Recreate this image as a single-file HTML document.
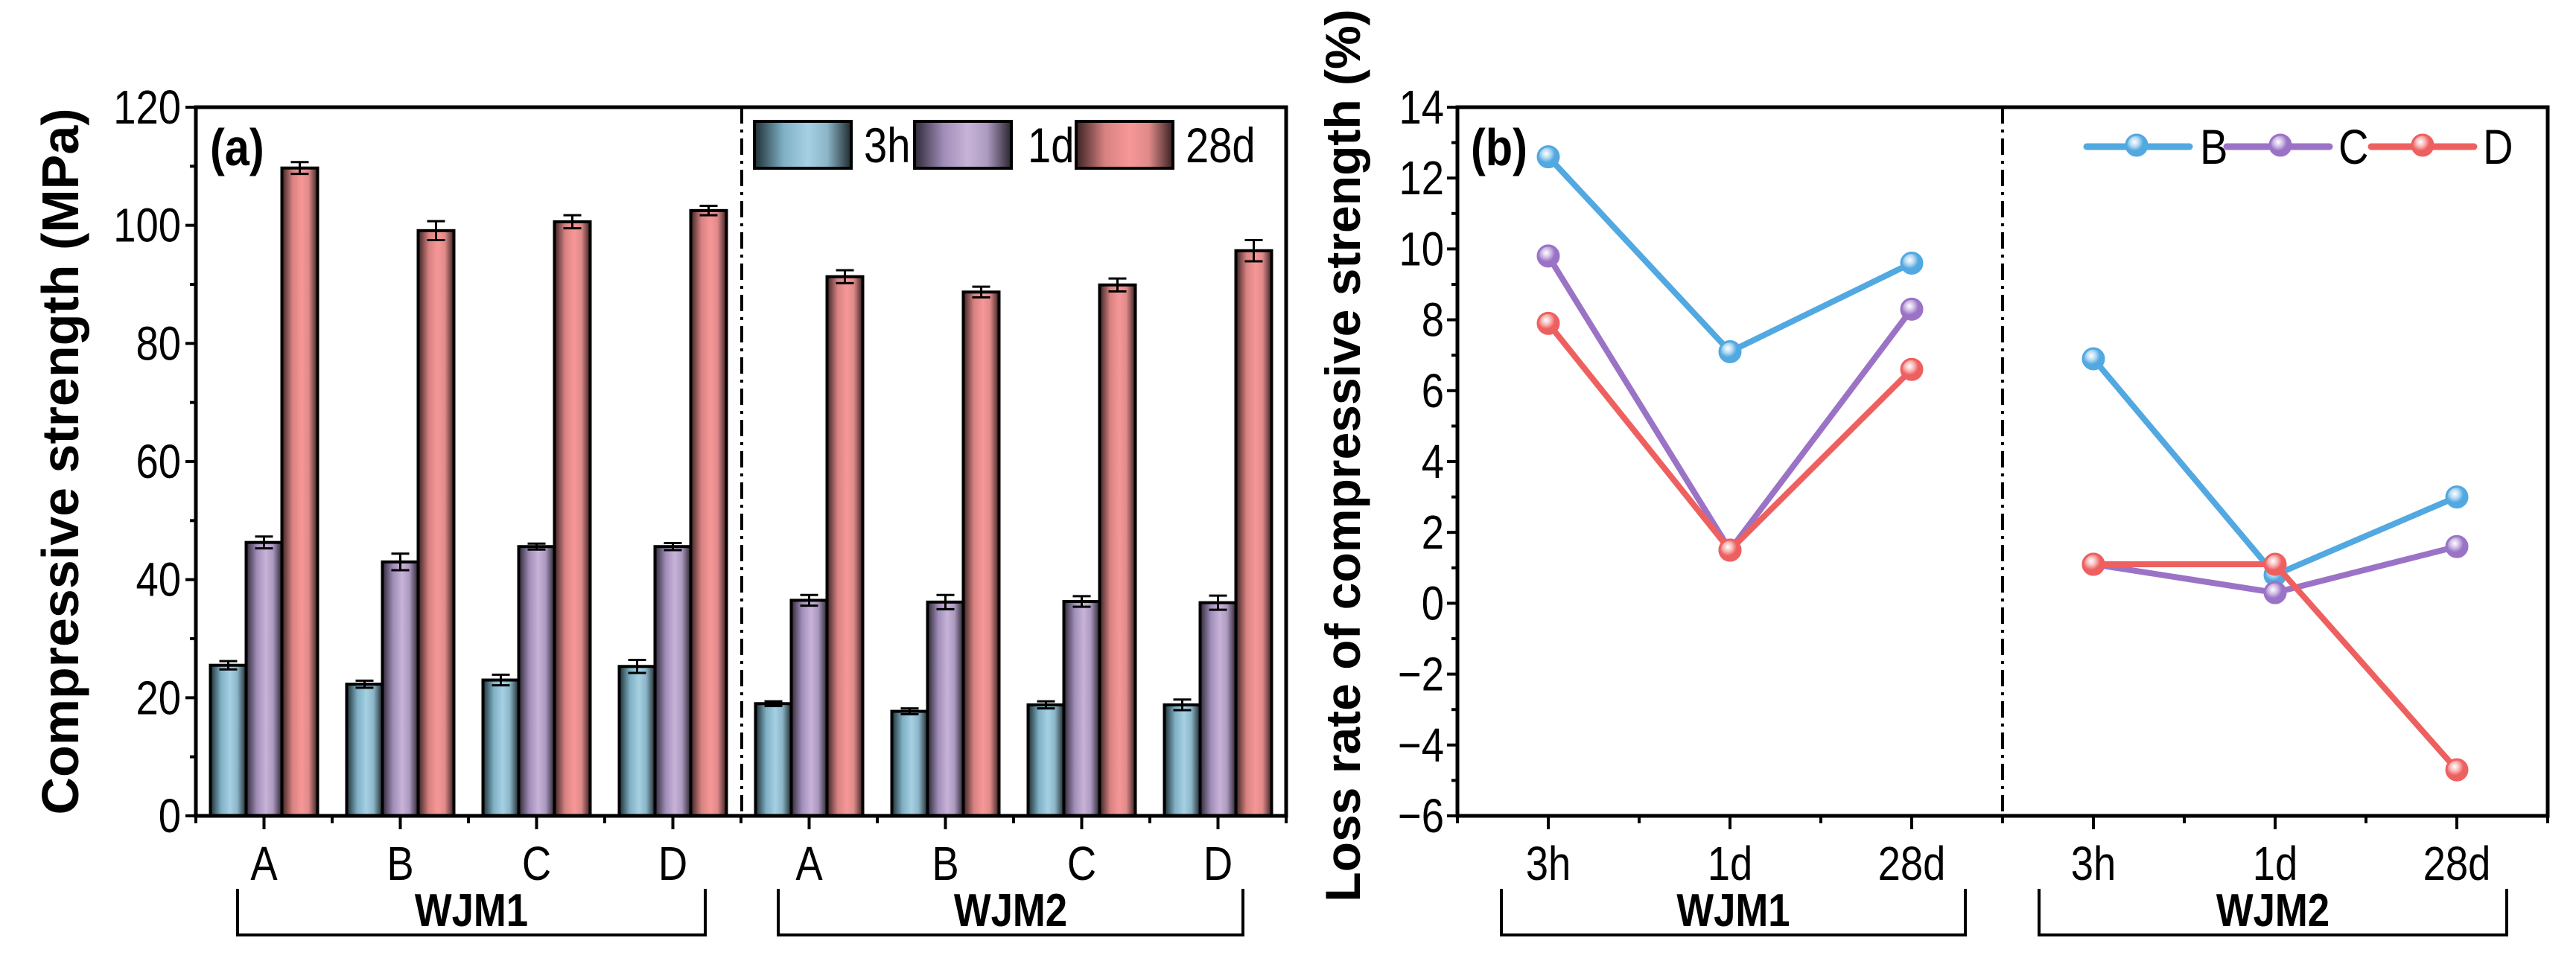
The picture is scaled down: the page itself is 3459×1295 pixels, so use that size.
<!DOCTYPE html>
<html><head><meta charset="utf-8"><style>
html,body{margin:0;padding:0;background:#fff;}
svg{display:block;font-family:"Liberation Sans",Arial,sans-serif;}
</style></head><body>
<svg id="svg" width="3459" height="1295" viewBox="0 0 3459 1295" xmlns="http://www.w3.org/2000/svg">
<defs>
<linearGradient id="g3h" x1="0" x2="1" y1="0" y2="0"><stop offset="0" stop-color="#1e2e33"/><stop offset="0.3" stop-color="#7fb0c4"/><stop offset="0.55" stop-color="#a6d0e3"/><stop offset="0.75" stop-color="#8cb6c8"/><stop offset="1" stop-color="#1e2a30"/></linearGradient>
<linearGradient id="g1d" x1="0" x2="1" y1="0" y2="0"><stop offset="0" stop-color="#2e2836"/><stop offset="0.3" stop-color="#a08db8"/><stop offset="0.55" stop-color="#c8b3d8"/><stop offset="0.75" stop-color="#ad9ac0"/><stop offset="1" stop-color="#2a2430"/></linearGradient>
<linearGradient id="g28d" x1="0" x2="1" y1="0" y2="0"><stop offset="0" stop-color="#3a2222"/><stop offset="0.3" stop-color="#d88282"/><stop offset="0.55" stop-color="#f79797"/><stop offset="0.75" stop-color="#e08a8a"/><stop offset="1" stop-color="#3a2020"/></linearGradient>
<radialGradient id="hlB" cx="0.4" cy="0.35" r="0.6"><stop offset="0" stop-color="#fff"/><stop offset="0.35" stop-color="#b8dcf3"/><stop offset="0.7" stop-color="#52a8e0"/></radialGradient>
<radialGradient id="hlC" cx="0.4" cy="0.35" r="0.6"><stop offset="0" stop-color="#fff"/><stop offset="0.35" stop-color="#d2c0e6"/><stop offset="0.7" stop-color="#9b73c6"/></radialGradient>
<radialGradient id="hlD" cx="0.4" cy="0.35" r="0.6"><stop offset="0" stop-color="#fff"/><stop offset="0.35" stop-color="#f8bcbc"/><stop offset="0.7" stop-color="#ee6060"/></radialGradient>
</defs>
<g id="chartA"></g>
<g id="chartB"></g>
</svg>
<script>
const barCategories = ['A','B','C','D','A','B','C','D'];
const val3h = [25.5,22.3,23.0,25.3,19.0,17.7,18.8,18.8];
const val1d = [46.3,43.0,45.6,45.6,36.5,36.2,36.3,36.1];
const val28d = [109.7,99.1,100.6,102.5,91.3,88.7,89.9,95.7];
const err3h = [0.7,0.6,0.9,1.1,0.4,0.5,0.6,0.9];
const err1d = [1.0,1.4,0.5,0.6,0.9,1.2,0.9,1.2];
const err28d = [1.0,1.6,1.1,0.8,1.1,0.9,1.1,1.8];
const yTicksA = [0,20,40,60,80,100,120];
const lineCategories = ['3h','1d','28d','3h','1d','28d'];
const lossB = [12.6,7.1,9.6,6.9,0.8,3.0];
const lossC = [9.8,1.5,8.3,1.1,0.3,1.6];
const lossD = [7.9,1.5,6.6,1.1,1.1,-4.7];
const yTicksB = [-6,-4,-2,0,2,4,6,8,10,12,14];
const NS='http://www.w3.org/2000/svg';
const SX=0.85, TF=64;
function mk(parent,tag,attrs,text){const e=document.createElementNS(NS,tag);for(const k in attrs)e.setAttribute(k,attrs[k]);if(text!==undefined)e.textContent=text;parent.appendChild(e);return e;}

// ---- Chart A ----
const A=document.getElementById('chartA');
const aL=263,aR=1727,aT=144,aB=1096,aMin=0,aMax=120;
const ya=v=>aB-(v-aMin)/(aMax-aMin)*(aB-aT);
const xa=i=>aL+(aR-aL)*(i+0.5)/barCategories.length;
const bw=48;
const series=[{v:val3h,e:err3h,f:'url(#g3h)',n:'3h'},{v:val1d,e:err1d,f:'url(#g1d)',n:'1d'},{v:val28d,e:err28d,f:'url(#g28d)',n:'28d'}];
series.forEach((s,si)=>{
  s.v.forEach((v,i)=>{
    const x=xa(i)+(si-1.5)*bw;
    const r=mk(A,'rect',{x:x,y:ya(v),width:bw,height:aB-ya(v),fill:s.f,stroke:'#000','stroke-width':4});
    
    
    const cx=x+bw/2,t=ya(v+s.e[i]),b=ya(v-s.e[i]);
    const eb=mk(A,'path',{d:`M${cx-12},${t}H${cx+12}M${cx},${t}V${b}M${cx-12},${b}H${cx+12}`,stroke:'#000','stroke-width':3,fill:'none'});
    
    
  });
});
let fr=mk(A,'rect',{x:aL,y:aT,width:aR-aL,height:aB-aT,fill:'none',stroke:'#000','stroke-width':5});


let dv=mk(A,'line',{x1:996,x2:996,y1:aT,y2:aB,stroke:'#000','stroke-width':4,'stroke-dasharray':'22,8,4,8'});


yTicksA.forEach((t,i)=>{
  mk(A,'line',{x1:aL-14,x2:aL,y1:ya(t),y2:ya(t),stroke:'#000','stroke-width':4});
  if(i<yTicksA.length-1)mk(A,'line',{x1:aL-8,x2:aL,y1:ya(t+10),y2:ya(t+10),stroke:'#000','stroke-width':4});
  const tl=mk(A,'text',{x:(aL-20)/SX,y:ya(t)+22,'text-anchor':'end','font-size':TF,transform:`scale(${SX},1)`},t);
  
  
});
for(let i=0;i<=barCategories.length;i++){
  const xb=aL+(aR-aL)*i/barCategories.length;
  mk(A,'line',{x1:xb,x2:xb,y1:aB,y2:aB+10,stroke:'#000','stroke-width':4});
}
barCategories.forEach((c,i)=>{
  mk(A,'line',{x1:xa(i),x2:xa(i),y1:aB,y2:aB+18,stroke:'#000','stroke-width':4});
  const tl=mk(A,'text',{x:xa(i)/SX,y:1182,'text-anchor':'middle','font-size':TF,transform:`scale(${SX},1)`},c);
  
  
});
[[319,947,'WJM1'],[1045,1669,'WJM2']].forEach(g=>{
  const p=mk(A,'path',{d:`M${g[0]},1194V1256H${g[1]}V1194`,fill:'none',stroke:'#000','stroke-width':4});
  
  
  const t=mk(A,'text',{x:(g[0]+g[1])/2/SX,y:1244,'text-anchor':'middle','font-size':62,'font-weight':'bold',transform:`scale(${SX},1)`},g[2]);
  
  
});
let yt=mk(A,'text',{x:0,y:0,'text-anchor':'middle','font-size':70,'font-weight':'bold',transform:'translate(105,620) rotate(-90)'},'Compressive strength (MPa)');


let pa=mk(A,'text',{x:282/SX,y:222,'font-size':70,'font-weight':'bold',transform:`scale(${SX},1)`},'(a)');


[[1013,'url(#g3h)','3h',1160],[1228,'url(#g1d)','1d',1380],[1445,'url(#g28d)','28d',1592]].forEach(l=>{
  const r=mk(A,'rect',{x:l[0],y:163,width:130,height:63,fill:l[1],stroke:'#000','stroke-width':4});
  
  
  const t=mk(A,'text',{x:l[3]/SX,y:218,'font-size':66,transform:`scale(${SX},1)`},l[2]);
  
  
});

// ---- Chart B ----
const B=document.getElementById('chartB');
const bL=1957,bR=3421,bT=144,bBt=1096,bMin=-6,bMax=14;
const yb=v=>bBt-(v-bMin)/(bMax-bMin)*(bBt-bT);
const xb=i=>bL+(bR-bL)*(i+0.5)/lineCategories.length;
fr=mk(B,'rect',{x:bL,y:bT,width:bR-bL,height:bBt-bT,fill:'none',stroke:'#000','stroke-width':5});


dv=mk(B,'line',{x1:2689,x2:2689,y1:bT,y2:bBt,stroke:'#000','stroke-width':4,'stroke-dasharray':'22,8,4,8'});


yTicksB.forEach((t,i)=>{
  mk(B,'line',{x1:bL-14,x2:bL,y1:yb(t),y2:yb(t),stroke:'#000','stroke-width':4});
  if(i<yTicksB.length-1)mk(B,'line',{x1:bL-8,x2:bL,y1:yb(t+1),y2:yb(t+1),stroke:'#000','stroke-width':4});
  const tl=mk(B,'text',{x:(bL-18)/SX,y:yb(t)+22,'text-anchor':'end','font-size':TF,transform:`scale(${SX},1)`},t<0?'\u2212'+(-t):t);
  
  
});
for(let i=0;i<=lineCategories.length;i++){
  const xx=bL+(bR-bL)*i/lineCategories.length;
  mk(B,'line',{x1:xx,x2:xx,y1:bBt,y2:bBt+10,stroke:'#000','stroke-width':4});
}
lineCategories.forEach((c,i)=>{
  mk(B,'line',{x1:xb(i),x2:xb(i),y1:bBt,y2:bBt+18,stroke:'#000','stroke-width':4});
  const tl=mk(B,'text',{x:xb(i)/SX,y:1182,'text-anchor':'middle','font-size':TF,transform:`scale(${SX},1)`},c);
  
  
});
[[2016,2639,'WJM1'],[2738,3366,'WJM2']].forEach(g=>{
  const p=mk(B,'path',{d:`M${g[0]},1194V1256H${g[1]}V1194`,fill:'none',stroke:'#000','stroke-width':4});
  
  
  const t=mk(B,'text',{x:(g[0]+g[1])/2/SX,y:1244,'text-anchor':'middle','font-size':62,'font-weight':'bold',transform:`scale(${SX},1)`},g[2]);
  
  
});
const lines=[{v:lossD,c:'#ee6060',g:'url(#hlD)',n:'D'},{v:lossC,c:'#9b73c6',g:'url(#hlC)',n:'C'},{v:lossB,c:'#52a8e0',g:'url(#hlB)',n:'B'}];
[lines[2],lines[1],lines[0]].forEach(s=>{
  [0,3].forEach(st=>{
    const pts=[0,1,2].map(k=>xb(st+k)+','+yb(s.v[st+k])).join(' ');
    const pl=mk(B,'polyline',{points:pts,fill:'none',stroke:s.c,'stroke-width':8,'stroke-linejoin':'round','stroke-linecap':'round'});
    
    
  });
  s.v.forEach((v,i)=>{
    const c=mk(B,'circle',{cx:xb(i),cy:yb(v),r:14,fill:s.g,stroke:s.c,'stroke-width':3});
    
    
  });
});
[[2802,2940,2869,'#52a8e0','url(#hlB)','B',2954],[2990,3128,3062,'#9b73c6','url(#hlC)','C',3140],[3184,3322,3253,'#ee6060','url(#hlD)','D',3334]].forEach(l=>{
  const ln=mk(B,'line',{x1:l[0],x2:l[1],y1:197,y2:197,stroke:l[3],'stroke-width':9,'stroke-linecap':'round'});
  
  
  mk(B,'circle',{cx:l[2],cy:195,r:14,fill:l[4],stroke:l[3],'stroke-width':3});
  const t=mk(B,'text',{x:l[6]/SX,y:220,'font-size':66,transform:`scale(${SX},1)`},l[5]);
  
  
});
yt=mk(B,'text',{x:0,y:0,'text-anchor':'middle','font-size':66,'font-weight':'bold',transform:'translate(1826,612) rotate(-90)'},'Loss rate of compressive strength (%)');


pa=mk(B,'text',{x:1975/SX,y:222,'font-size':70,'font-weight':'bold',transform:`scale(${SX},1)`},'(b)');


</script>
</body></html>
